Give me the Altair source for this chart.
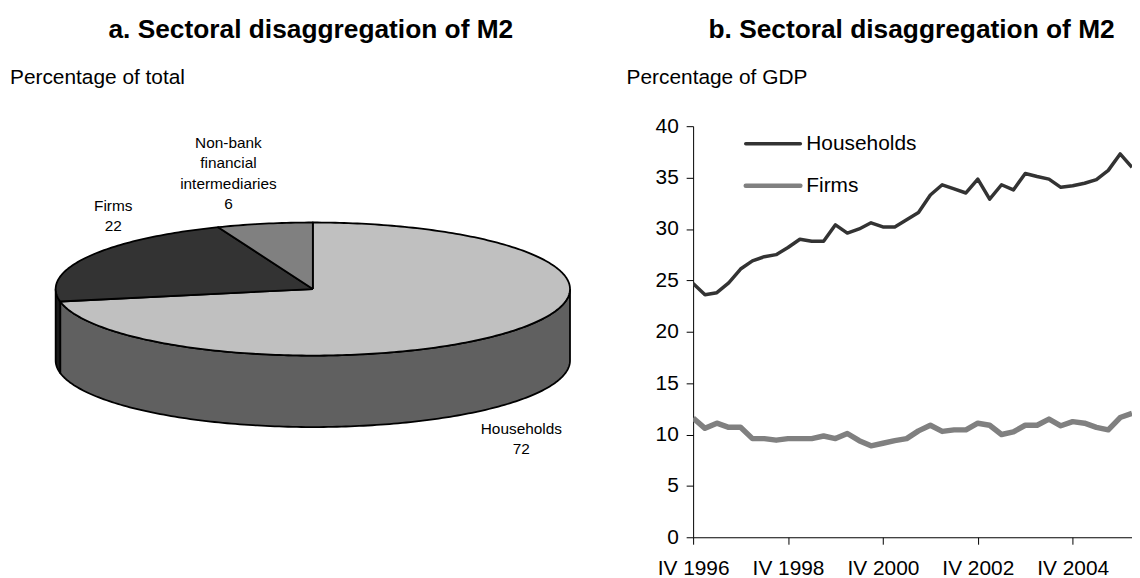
import altair as alt
import numpy as np
import pandas as pd

FONT = "Liberation Sans"

# ---------------- data: panel b (quarterly, % of GDP) ----------------
households = [24.7, 23.6, 23.8, 24.75, 26.1, 26.9, 27.3, 27.5, 28.2, 29.0,
              28.8, 28.8, 30.4, 29.6, 30.0, 30.6, 30.2, 30.2, 30.9, 31.6,
              33.3, 34.3, 33.9, 33.5, 34.85, 32.9, 34.3, 33.8, 35.4, 35.1,
              34.85, 34.05, 34.2, 34.45, 34.8, 35.7, 37.3, 36.0]
firms = [11.6, 10.6, 11.1, 10.7, 10.7, 9.6, 9.6, 9.45, 9.6, 9.6,
         9.6, 9.85, 9.6, 10.1, 9.4, 8.9, 9.15, 9.4, 9.6, 10.35,
         10.9, 10.3, 10.45, 10.45, 11.1, 10.9, 10.0, 10.25, 10.9, 10.9,
         11.5, 10.85, 11.25, 11.1, 10.7, 10.45, 11.65, 12.05]
series_names = ["Households", "Firms"]
series_colors = ["#333333", "#808080"]
series_widths = [3.5, 5.5]
tick_quarters = ["IV 1996", "IV 1998", "IV 2000", "IV 2002", "IV 2004"]
y_ticks = [0, 5, 10, 15, 20, 25, 30, 35, 40]

roman = ["I", "II", "III", "IV"]
quarters = []
q, yr = 3, 1996
for _ in range(len(households)):
    quarters.append(f"{roman[q]} {yr}")
    q += 1
    if q == 4:
        q, yr = 0, yr + 1

# ---------------- data: panel a (shares, % of total) ----------------
pie_categories = ["Households", "Firms", "Non-bank financial intermediaries"]
pie_shares = [72, 22, 6]
pie_label_lines = [["Households"], ["Firms"], ["Non-bank", "financial", "intermediaries"]]
pie_top_colors = ["#c0c0c0", "#333333", "#808080"]
pie_side_colors = ["#606060", "#1a1a1a", "#4d4d4d"]

# ---------------- line chart ----------------
line_df = pd.DataFrame({
    "quarter": quarters * 2,
    "series": [series_names[0]] * len(quarters) + [series_names[1]] * len(quarters),
    "value": households + firms,
})

line_chart = alt.Chart(line_df).mark_line(clip=True, strokeJoin="round").encode(
    x=alt.X("quarter:O", sort=quarters,
            scale=alt.Scale(type="point", domain=quarters, padding=0),
            axis=alt.Axis(values=tick_quarters, labelAngle=0, tickSize=7, labelPadding=13,
                          labelFontSize=21, labelFont=FONT, labelColor="black",
                          domainColor="black", tickColor="black", title=None, grid=False,
                          labelOverlap=False, labelFlush=False)),
    y=alt.Y("value:Q", scale=alt.Scale(domain=[0, 40], nice=False),
            axis=alt.Axis(values=y_ticks, tickSize=7, labelPadding=8, labelFontSize=21,
                          labelFont=FONT, labelColor="black", domainColor="black",
                          tickColor="black", title=None, grid=False)),
    color=alt.Color("series:N", scale=alt.Scale(domain=series_names, range=series_colors), legend=None),
    strokeWidth=alt.StrokeWidth("series:N", scale=alt.Scale(domain=series_names, range=series_widths), legend=None),
)

# ---------------- 3D pie (polygons computed from shares) ----------------
RX, RY, DEPTH = 259, 67, 72
cum = np.concatenate([[0], np.cumsum(pie_shares)]) / sum(pie_shares) * 360.0


def arc(a0, a1, dy=0.0):
    ts = np.radians(np.linspace(a0, a1, max(3, int(abs(a1 - a0)) + 2)))
    return list(zip(RX * np.sin(ts), RY * np.cos(ts) + dy))


polys = []
for k in range(len(pie_shares)):
    s0, s1 = max(cum[k], 90.0), min(cum[k + 1], 270.0)
    if s1 > s0:
        pts = arc(s0, s1) + arc(s1, s0, -DEPTH)
        pts.append(pts[0])
        polys.append((pts, pie_side_colors[k]))
for k in range(len(pie_shares)):
    pts = [(0.0, 0.0)] + arc(cum[k], cum[k + 1]) + [(0.0, 0.0)]
    polys.append((pts, pie_top_colors[k]))

pie_x_scale = alt.Scale(domain=[383, 825], nice=False, zero=False)
pie_y_scale = alt.Scale(domain=[-250, 164], nice=False, zero=False)

pie_layers = []
for pts, col in polys:
    dfp = pd.DataFrame({"px": [p[0] for p in pts], "py": [p[1] for p in pts],
                        "i": list(range(len(pts)))})
    pie_layers.append(
        alt.Chart(dfp).mark_line(fill=col, stroke="black", strokeWidth=1.8,
                                 strokeJoin="round", clip=False).encode(
            x=alt.X("px:Q", scale=pie_x_scale, axis=None),
            y=alt.Y("py:Q", scale=pie_y_scale, axis=None),
            order="i:Q",
        )
    )
pie_chart = alt.layer(*pie_layers)

base = pd.DataFrame({"k": [0]})


def txt(text, x, y, size, bold=False, align="center", lh=None):
    kw = {}
    if lh is not None:
        kw["lineHeight"] = lh
    return alt.Chart(base).mark_text(
        text=text, align=align, baseline="middle", fontSize=size,
        fontWeight="bold" if bold else "normal", font=FONT, color="black", clip=False, **kw
    ).encode(x=alt.value(x), y=alt.value(y))


# pie labels (plot-area coordinates; plot origin is at page (698,125)); y = first line
pie_texts = [
    txt(pie_label_lines[0] + [str(pie_shares[0])], -173, 305, 15.5, lh=20),
    txt(pie_label_lines[1] + [str(pie_shares[1])], -584, 80, 15.5, lh=21),
    txt(pie_label_lines[2] + [str(pie_shares[2])], -468, 17, 15.5, lh=20.6),
]

titles = [
    txt("a. Sectoral disaggregation of M2", -385, -97, 26.5, bold=True),
    txt("b. Sectoral disaggregation of M2", 220, -97, 26.5, bold=True),
    txt("Percentage of total", -688, -48, 21, align="left"),
    txt("Percentage of GDP", -67, -48, 21, align="left"),
]

legend_y = [17.7, 60]
legend_parts = []
for name, col, w, ly in zip(series_names, series_colors, series_widths, legend_y):
    legend_parts.append(
        alt.Chart(base).mark_rule(color=col, strokeWidth=w - 1 if w > 4 else w, strokeCap="round").encode(
            x=alt.value(53), x2=alt.value(108), y=alt.value(ly))
    )
    legend_parts.append(txt(name, 114, ly, 21, align="left"))

chart = alt.layer(line_chart, pie_chart, *legend_parts, *pie_texts, *titles).resolve_scale(
    x="independent", y="independent", color="independent", strokeWidth="independent"
).properties(
    width=442, height=414,
    autosize=alt.AutoSizeParams(type="none"),
    padding={"left": 690, "top": 117, "right": 0, "bottom": 40},
    background="white",
).configure_view(stroke=None)

chart.save("out.html", embed_options={"renderer": "svg", "actions": False})
